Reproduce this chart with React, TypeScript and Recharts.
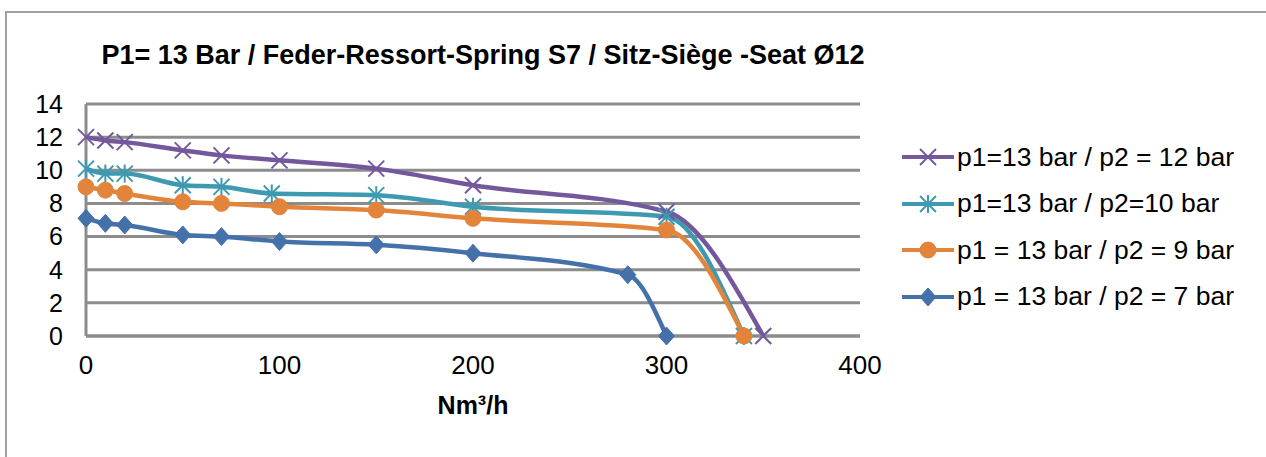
import React from 'react'
import { LineChart, Line, XAxis, YAxis, CartesianGrid } from 'recharts'

// flow (Nm³/h) and outlet pressure (bar) per curve
const flow12 = [0, 10, 20, 50, 70, 100, 150, 200, 300, 350]
const p12 = [12.0, 11.8, 11.7, 11.2, 10.9, 10.6, 10.1, 9.1, 7.5, 0]

const flow10 = [0, 10, 20, 50, 70, 96, 150, 200, 300, 340]
const p10 = [10.1, 9.8, 9.8, 9.1, 9.0, 8.6, 8.5, 7.8, 7.2, 0]

const flow9 = [0, 10, 20, 50, 70, 100, 150, 200, 300, 340]
const p9 = [9.0, 8.8, 8.6, 8.1, 8.0, 7.8, 7.6, 7.1, 6.4, 0]

const flow7 = [0, 10, 20, 50, 70, 100, 150, 200, 280, 300]
const p7 = [7.1, 6.8, 6.7, 6.1, 6.0, 5.7, 5.5, 5.0, 3.7, 0]

const xTicks = [0, 100, 200, 300, 400]
const yTicks = [0, 2, 4, 6, 8, 10, 12, 14]

const toPoints = (xs: number[], ys: number[]) => xs.map((x, i) => ({ x, y: ys[i] }))

const series = [
  { name: 'p1=13 bar / p2 = 12 bar', color: '#74589D', marker: 'cross', data: toPoints(flow12, p12) },
  { name: 'p1=13 bar / p2=10 bar', color: '#3E9AB1', marker: 'star', data: toPoints(flow10, p10) },
  { name: 'p1 = 13 bar / p2 = 9 bar', color: '#E2843A', marker: 'circle', data: toPoints(flow9, p9) },
  { name: 'p1 = 13 bar / p2 = 7 bar', color: '#4571AA', marker: 'diamond', data: toPoints(flow7, p7) },
]

const FONT = '"Liberation Sans", Arial, sans-serif'

function Marker({ kind, cx, cy, color }: { kind: string; cx: number; cy: number; color: string }) {
  const s = 8
  if (kind === 'cross') {
    return (
      <g stroke={color} strokeWidth={2}>
        <line x1={cx - s} y1={cy - s} x2={cx + s} y2={cy + s} />
        <line x1={cx - s} y1={cy + s} x2={cx + s} y2={cy - s} />
      </g>
    )
  }
  if (kind === 'star') {
    return (
      <g stroke={color} strokeWidth={2}>
        <line x1={cx - s} y1={cy - s} x2={cx + s} y2={cy + s} />
        <line x1={cx - s} y1={cy + s} x2={cx + s} y2={cy - s} />
        <line x1={cx} y1={cy - s - 1} x2={cx} y2={cy + s + 1} />
      </g>
    )
  }
  if (kind === 'circle') {
    return <circle cx={cx} cy={cy} r={8} fill={color} stroke={color} strokeWidth={1} />
  }
  return (
    <polygon
      points={`${cx},${cy - 9} ${cx + 8},${cy} ${cx},${cy + 9} ${cx - 8},${cy}`}
      fill={color}
      stroke={color}
      strokeWidth={1}
    />
  )
}

function LegendBox() {
  return (
    <div style={{ position: 'absolute', left: 900, top: 134, fontFamily: FONT, fontSize: 26.5, color: '#000' }}>
      {series.map(s => (
        <div key={s.name} style={{ display: 'flex', alignItems: 'center', height: 46.5, whiteSpace: 'nowrap' }}>
          <svg width={56} height={22} style={{ marginRight: 1 }}>
            <line x1={2} y1={11} x2={54} y2={11} stroke={s.color} strokeWidth={4} />
            <Marker kind={s.marker} cx={28} cy={11} color={s.color} />
          </svg>
          <span>{s.name}</span>
        </div>
      ))}
    </div>
  )
}

export default function App() {
  return (
    <div style={{ position: 'absolute', left: 0, top: 0, width: 1266, height: 457, background: '#fff', fontFamily: FONT }}>
      <div
        style={{
          position: 'absolute',
          left: 5,
          top: 11,
          width: 1261,
          height: 446,
          borderTop: '2px solid #a0a0a0',
          borderLeft: '2px solid #a0a0a0',
        }}
      />
      <div
        style={{
          position: 'absolute',
          left: 0,
          width: 966,
          top: 40,
          textAlign: 'center',
          fontWeight: 'bold',
          fontSize: 27,
          color: '#000',
          whiteSpace: 'nowrap',
        }}
      >
        P1= 13 Bar / Feder-Ressort-Spring S7 / Sitz-Siège -Seat Ø12
      </div>
      <div style={{ position: 'absolute', left: 0, top: 0 }}>
        <LineChart width={1266} height={457} margin={{ top: 104, right: 406, bottom: 31, left: 26 }}>
          <CartesianGrid vertical={false} stroke="#8c8c8c" strokeWidth={3} />
          <XAxis
            type="number"
            dataKey="x"
            domain={[0, 400]}
            ticks={xTicks}
            height={90}
            tickLine={false}
            tickSize={0}
            tickMargin={20}
            axisLine={{ stroke: '#8c8c8c', strokeWidth: 3 }}
            tick={{ fill: '#000', fontSize: 26, fontFamily: FONT }}
            label={{ value: 'Nm³/h', position: 'insideBottom', offset: 12, fill: '#000', fontSize: 25, fontWeight: 'bold', fontFamily: FONT }}
          />
          <YAxis
            type="number"
            dataKey="y"
            domain={[0, 14]}
            ticks={yTicks}
            width={60}
            tickLine={false}
            tickSize={0}
            tickMargin={23}
            axisLine={{ stroke: '#8c8c8c', strokeWidth: 3 }}
            tick={{ fill: '#000', fontSize: 25, fontFamily: FONT }}
          />
          {series.map(s => (
            <Line
              key={s.name}
              data={s.data}
              dataKey="y"
              name={s.name}
              type="monotone"
              stroke={s.color}
              strokeWidth={4.5}
              isAnimationActive={false}
              dot={(p: any) => (
                <g key={`${s.name}-${p.index}`}>
                  <Marker kind={s.marker} cx={p.cx} cy={p.cy} color={s.color} />
                </g>
              )}
              activeDot={false}
            />
          ))}
        </LineChart>
      </div>
      <LegendBox />
    </div>
  )
}
